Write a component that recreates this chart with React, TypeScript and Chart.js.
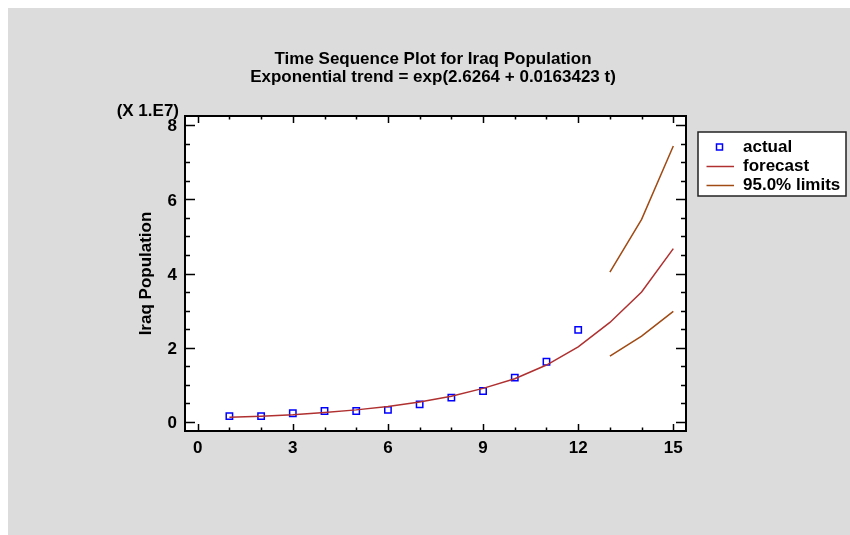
import React, { useEffect, useRef } from "react";
import { Chart, registerables } from "chart.js";

Chart.register(...registerables);

// ---- data (values in units of 1E7) ----
const titleLines = [
  "Time Sequence Plot for Iraq Population",
  "Exponential trend = exp(2.6264 + 0.0163423 t)",
];
const yAxisTitle = "Iraq Population";
const yScaleNote = "(X 1.E7)";
const legendLabels = ["actual", "forecast", "95.0% limits"];

const actualPeriods = [1, 2, 3, 4, 5, 6, 7, 8, 9, 10, 11, 12];
const actualValues = [0.15, 0.15, 0.23, 0.29, 0.29, 0.32, 0.47, 0.65, 0.83, 1.19, 1.62, 2.48];

const forecastPeriods = [1, 2, 3, 4, 5, 6, 7, 8, 9, 10, 11, 12, 13, 14, 15];
const forecastValues = [0.12, 0.15, 0.19, 0.25, 0.32, 0.41, 0.53, 0.69, 0.9, 1.16, 1.53, 2.02, 2.68, 3.5, 4.67];

const limitPeriods = [13, 14, 15];
const upperLimits = [4.04, 5.46, 7.44];
const lowerLimits = [1.77, 2.31, 2.98];

const xTickValues = [0, 3, 6, 9, 12, 15];
const yTickValues = [0, 2, 4, 6, 8];
const xMinorTickValues = [0, 1, 2, 3, 4, 5, 6, 7, 8, 9, 10, 11, 12, 13, 14, 15];
const yMinorTickValues = [0, 0.5, 1, 1.5, 2, 2.5, 3, 3.5, 4, 4.5, 5, 5.5, 6, 6.5, 7, 7.5, 8];

// ---- styles ----
const BG = "rgb(220,220,220)";
const FAMILY = "'Liberation Sans', Arial, sans-serif";
const FONT_PX = 17;
const FONT = `bold ${FONT_PX}px ${FAMILY}`;
const ACTUAL_COLOR = "#0000ff";
const FORECAST_COLOR = "#b03030";
const LIMIT_COLOR = "#a04a14";

const toPoints = (xs: number[], ys: number[]) => xs.map((x, i) => ({ x, y: ys[i] }));

const decorPlugin = {
  id: "decor",
  beforeDraw(chart: any) {
    const { ctx, chartArea: a, width, height } = chart;
    ctx.save();
    ctx.fillStyle = BG;
    ctx.fillRect(0, 0, width, height);
    ctx.fillStyle = "#ffffff";
    ctx.fillRect(a.left, a.top, a.right - a.left, a.bottom - a.top);
    ctx.restore();
  },
  afterDraw(chart: any) {
    const { ctx, chartArea: a } = chart;
    const xs = chart.scales.x;
    const ys = chart.scales.y;
    ctx.save();
    // frame
    ctx.strokeStyle = "#000";
    ctx.lineWidth = 2;
    ctx.strokeRect(a.left, a.top, a.right - a.left, a.bottom - a.top);
    // inward ticks
    ctx.lineWidth = 1.5;
    ctx.beginPath();
    xMinorTickValues.forEach((v) => {
      const px = Math.round(xs.getPixelForValue(v)) + 0.5;
      const len = xTickValues.includes(v) ? 7 : 3.5;
      ctx.moveTo(px, a.bottom);
      ctx.lineTo(px, a.bottom - len);
      ctx.moveTo(px, a.top);
      ctx.lineTo(px, a.top + len);
    });
    yMinorTickValues.forEach((v) => {
      const py = Math.round(ys.getPixelForValue(v)) + 0.5;
      const len = yTickValues.includes(v) ? 10 : 5;
      ctx.moveTo(a.left, py);
      ctx.lineTo(a.left + len, py);
      ctx.moveTo(a.right, py);
      ctx.lineTo(a.right - len, py);
    });
    ctx.stroke();

    // titles
    ctx.fillStyle = "#000";
    ctx.font = FONT;
    ctx.textAlign = "center";
    ctx.textBaseline = "alphabetic";
    const cx = 425;
    ctx.fillText(titleLines[0], cx, 56);
    ctx.fillText(titleLines[1], cx, 74);

    // scale note
    ctx.textAlign = "right";
    ctx.fillText(yScaleNote, a.left - 6, 108);

    // legend
    const lx = a.right + 12;
    const ly = a.top + 16;
    const lw = 148;
    const lh = 64;
    ctx.fillStyle = "#fff";
    ctx.fillRect(lx, ly, lw, lh);
    ctx.strokeStyle = "#222";
    ctx.lineWidth = 1.5;
    ctx.strokeRect(lx, ly, lw, lh);
    const rows = [ly + 15, ly + 34.5, ly + 53.5];
    // actual marker
    ctx.strokeStyle = ACTUAL_COLOR;
    ctx.lineWidth = 1.5;
    ctx.strokeRect(lx + 18.5, rows[0] - 3, 6, 6);
    // lines
    ctx.strokeStyle = FORECAST_COLOR;
    ctx.beginPath();
    ctx.moveTo(lx + 8.5, rows[1]);
    ctx.lineTo(lx + 36, rows[1]);
    ctx.stroke();
    ctx.strokeStyle = LIMIT_COLOR;
    ctx.beginPath();
    ctx.moveTo(lx + 8.5, rows[2]);
    ctx.lineTo(lx + 36, rows[2]);
    ctx.stroke();
    ctx.fillStyle = "#000";
    ctx.textAlign = "left";
    ctx.textBaseline = "middle";
    legendLabels.forEach((t, i) => ctx.fillText(t, lx + 45, rows[i]));
    ctx.restore();
  },
};

export default function App() {
  const ref = useRef<HTMLCanvasElement | null>(null);

  useEffect(() => {
    if (!ref.current) return;
    const lineBase = {
      type: "line" as const,
      showLine: true,
      pointRadius: 0,
      borderWidth: 1.5,
      tension: 0,
      fill: false,
    };
    const chart = new Chart(ref.current, {
      type: "scatter",
      data: {
        datasets: [
          {
            ...lineBase,
            label: "upper",
            data: toPoints(limitPeriods, upperLimits),
            borderColor: LIMIT_COLOR,
          },
          {
            ...lineBase,
            label: "lower",
            data: toPoints(limitPeriods, lowerLimits),
            borderColor: LIMIT_COLOR,
          },
          {
            ...lineBase,
            label: legendLabels[1],
            data: toPoints(forecastPeriods, forecastValues),
            borderColor: FORECAST_COLOR,
          },
          {
            type: "scatter" as const,
            label: legendLabels[0],
            data: toPoints(actualPeriods, actualValues),
            pointStyle: "rect",
            pointRadius: 4.5,
            borderColor: ACTUAL_COLOR,
            backgroundColor: "rgba(0,0,0,0)",
            borderWidth: 1.5,
          },
        ] as any,
      },
      options: {
        animation: false,
        responsive: false,
        maintainAspectRatio: false,
        layout: { padding: { left: 128, top: 108, right: 164, bottom: 0 } },
        plugins: {
          legend: { display: false },
          title: { display: false },
          tooltip: { enabled: false },
        },
        scales: {
          x: {
            type: "linear",
            min: -0.4,
            max: 15.4,
            grid: { display: false, drawTicks: false },
            border: { display: false },
            afterBuildTicks: (s: any) => {
              s.ticks = xTickValues.map((v) => ({ value: v }));
            },
            afterFit: (s: any) => {
              s.height = 104;
            },
            ticks: {
              color: "#000",
              font: { family: FAMILY, size: FONT_PX, weight: "bold" },
              padding: 7,
              maxRotation: 0,
              autoSkip: false,
            },
          },
          y: {
            type: "linear",
            min: -0.25,
            max: 8.25,
            grid: { display: false, drawTicks: false },
            border: { display: false },
            afterBuildTicks: (s: any) => {
              s.ticks = yTickValues.map((v) => ({ value: v }));
            },
            afterFit: (s: any) => {
              s.width = 49;
            },
            title: {
              display: true,
              text: yAxisTitle,
              color: "#000",
              font: { family: FAMILY, size: FONT_PX, weight: "bold" },
              padding: { top: 0, bottom: 0 },
            },
            ticks: {
              color: "#000",
              font: { family: FAMILY, size: FONT_PX, weight: "bold" },
              padding: 8,
              labelOffset: 1.5,
              autoSkip: false,
            },
          },
        },
      } as any,
      plugins: [decorPlugin],
    });
    return () => chart.destroy();
  }, []);

  return (
    <div style={{ position: "fixed", left: 8, top: 8, width: 842, height: 527 }}>
      <canvas ref={ref} width={842} height={527} style={{ display: "block" }} />
    </div>
  );
}
